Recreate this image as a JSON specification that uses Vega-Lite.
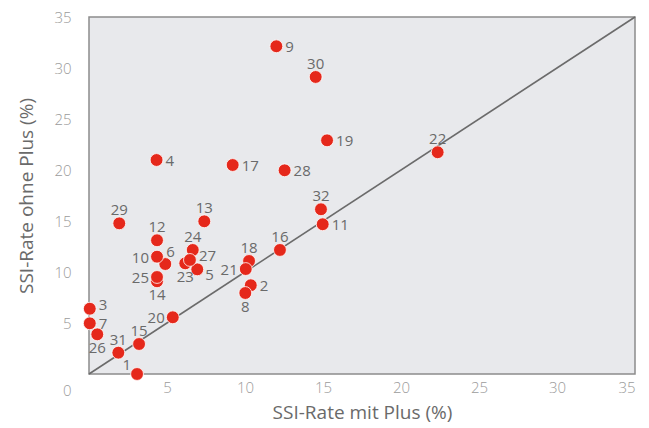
{
  "$schema": "https://vega.github.io/schema/vega-lite/v6.json",
  "autosize": "none",
  "padding": {"left": 89, "top": 17, "right": 14, "bottom": 54},
  "width": 546,
  "height": 357,
  "background": "white",
  "config": {
    "view": {"fill": "#e8e9ec", "stroke": "#8c8c8c", "strokeWidth": 1.5},
    "font": "Open Sans",
    "text": {"font": "Open Sans", "fontWeight": 400},
    "axis": {
      "domain": false,
      "ticks": false,
      "grid": false,
      "labelColor": "#9b9b9b",
      "labelFontSize": 15,
      "labelFont": "Open Sans",
      "labelFontWeight": 300,
      "titleColor": "#6a6a6a",
      "titleFontSize": 19,
      "titleFontWeight": 400,
      "titleFont": "Open Sans"
    }
  },
  "datasets": {
    "points": [
      {"id": "1", "mit": 3.08, "ohne": 0.0},
      {"id": "2", "mit": 10.37, "ohne": 8.7},
      {"id": "3", "mit": 0.05, "ohne": 6.4},
      {"id": "4", "mit": 4.33, "ohne": 20.98},
      {"id": "5", "mit": 6.94, "ohne": 10.26},
      {"id": "6", "mit": 4.89, "ohne": 10.78},
      {"id": "7", "mit": 0.05, "ohne": 4.97},
      {"id": "8", "mit": 10.02, "ohne": 7.94},
      {"id": "9", "mit": 12.01, "ohne": 32.13},
      {"id": "10", "mit": 4.36, "ohne": 11.5},
      {"id": "11", "mit": 14.98, "ohne": 14.68},
      {"id": "12", "mit": 4.36, "ohne": 13.11},
      {"id": "13", "mit": 7.39, "ohne": 14.97},
      {"id": "14", "mit": 4.36, "ohne": 9.09},
      {"id": "15", "mit": 3.21, "ohne": 2.94},
      {"id": "16", "mit": 12.24, "ohne": 12.16},
      {"id": "17", "mit": 9.21, "ohne": 20.49},
      {"id": "18", "mit": 10.26, "ohne": 11.08},
      {"id": "19", "mit": 15.26, "ohne": 22.91},
      {"id": "20", "mit": 5.37, "ohne": 5.56},
      {"id": "21", "mit": 10.05, "ohne": 10.29},
      {"id": "22", "mit": 22.35, "ohne": 21.74},
      {"id": "23", "mit": 6.17, "ohne": 10.85},
      {"id": "24", "mit": 6.65, "ohne": 12.16},
      {"id": "25", "mit": 4.36, "ohne": 9.51},
      {"id": "26", "mit": 0.53, "ohne": 3.89},
      {"id": "27", "mit": 6.47, "ohne": 11.18},
      {"id": "28", "mit": 12.54, "ohne": 19.97},
      {"id": "29", "mit": 1.94, "ohne": 14.77},
      {"id": "30", "mit": 14.53, "ohne": 29.12},
      {"id": "31", "mit": 1.88, "ohne": 2.09},
      {"id": "32", "mit": 14.87, "ohne": 16.15}
    ],
    "diag": [{"v": 0}, {"v": 35}]
  },
  "layer": [
    {
      "data": {"name": "diag"},
      "mark": {"type": "line", "color": "#6b6b6b", "strokeWidth": 1.6},
      "encoding": {
        "x": {"field": "v", "type": "quantitative", "scale": {"domain": [0, 35], "nice": false}, "axis": {"values": [0, 5, 10, 15, 20, 25, 30, 35], "labelExpr": "datum.value === 0 ? '' : datum.label", "labelPadding": 6, "title": "SSI-Rate mit Plus (%)", "titlePadding": 8}},
        "y": {"field": "v", "type": "quantitative", "scale": {"domain": [0, 35], "nice": false}, "axis": {"values": [0, 5, 10, 15, 20, 25, 30, 35], "labelPadding": 18, "labelOffset": {"condition": {"test": "datum.value === 0", "value": 16}, "value": 0}, "title": "SSI-Rate ohne Plus (%)", "titlePadding": 17}}
      }
    },
    {
      "data": {"name": "points"},
      "mark": {"type": "circle", "color": "#e5281b", "opacity": 1, "size": 165, "stroke": "white", "strokeWidth": 0.8},
      "encoding": {
        "x": {"field": "mit", "type": "quantitative"},
        "y": {"field": "ohne", "type": "quantitative"}
      }
    },
    {
      "data": {"name": "points"},
      "transform": [{"filter": {"field": "id", "oneOf": ["2", "4", "7", "9", "11", "17", "19", "28"]}}],
      "mark": {"type": "text", "align": "left", "baseline": "middle", "dx": 9, "dy": 1, "fontSize": 15, "color": "#6a6a6a"},
      "encoding": {
        "x": {"field": "mit", "type": "quantitative"},
        "y": {"field": "ohne", "type": "quantitative"},
        "text": {"field": "id"}
      }
    },
    {
      "data": {"name": "points"},
      "transform": [{"filter": {"field": "id", "oneOf": ["3", "27"]}}],
      "mark": {"type": "text", "align": "left", "baseline": "middle", "dx": 9, "dy": -4, "fontSize": 15, "color": "#6a6a6a"},
      "encoding": {
        "x": {"field": "mit", "type": "quantitative"},
        "y": {"field": "ohne", "type": "quantitative"},
        "text": {"field": "id"}
      }
    },
    {
      "data": {"name": "points"},
      "transform": [{"filter": {"field": "id", "oneOf": ["5"]}}],
      "mark": {"type": "text", "align": "left", "baseline": "middle", "dx": 8, "dy": 6, "fontSize": 15, "color": "#6a6a6a"},
      "encoding": {
        "x": {"field": "mit", "type": "quantitative"},
        "y": {"field": "ohne", "type": "quantitative"},
        "text": {"field": "id"}
      }
    },
    {
      "data": {"name": "points"},
      "transform": [{"filter": {"field": "id", "oneOf": ["12", "13", "15", "16", "18", "22", "24", "29", "30", "31", "32"]}}],
      "mark": {"type": "text", "align": "center", "baseline": "middle", "dy": -13, "fontSize": 15, "color": "#6a6a6a"},
      "encoding": {
        "x": {"field": "mit", "type": "quantitative"},
        "y": {"field": "ohne", "type": "quantitative"},
        "text": {"field": "id"}
      }
    },
    {
      "data": {"name": "points"},
      "transform": [{"filter": {"field": "id", "oneOf": ["10", "20", "21", "25"]}}],
      "mark": {"type": "text", "align": "right", "baseline": "middle", "dx": -8, "dy": 1, "fontSize": 15, "color": "#6a6a6a"},
      "encoding": {
        "x": {"field": "mit", "type": "quantitative"},
        "y": {"field": "ohne", "type": "quantitative"},
        "text": {"field": "id"}
      }
    },
    {
      "data": {"name": "points"},
      "transform": [{"filter": {"field": "id", "oneOf": ["8", "14", "23", "26"]}}],
      "mark": {"type": "text", "align": "center", "baseline": "middle", "dy": 14, "fontSize": 15, "color": "#6a6a6a"},
      "encoding": {
        "x": {"field": "mit", "type": "quantitative"},
        "y": {"field": "ohne", "type": "quantitative"},
        "text": {"field": "id"}
      }
    },
    {
      "data": {"name": "points"},
      "transform": [{"filter": {"field": "id", "oneOf": ["1"]}}],
      "mark": {"type": "text", "align": "right", "baseline": "middle", "dx": -6, "dy": -9, "fontSize": 15, "color": "#6a6a6a"},
      "encoding": {
        "x": {"field": "mit", "type": "quantitative"},
        "y": {"field": "ohne", "type": "quantitative"},
        "text": {"field": "id"}
      }
    },
    {
      "data": {"name": "points"},
      "transform": [{"filter": {"field": "id", "oneOf": ["6"]}}],
      "mark": {"type": "text", "align": "left", "baseline": "middle", "dx": 1, "dy": -12, "fontSize": 15, "color": "#6a6a6a"},
      "encoding": {
        "x": {"field": "mit", "type": "quantitative"},
        "y": {"field": "ohne", "type": "quantitative"},
        "text": {"field": "id"}
      }
    }
  ]
}
